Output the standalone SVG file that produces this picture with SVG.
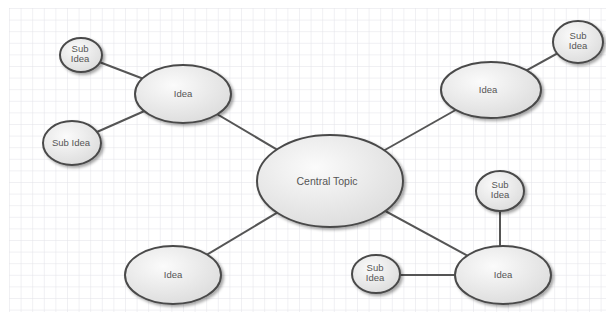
<svg xmlns="http://www.w3.org/2000/svg" width="606" height="322" viewBox="0 0 606 322">
<defs>
<pattern id="grid" x="9" y="8" width="11.6" height="11.6" patternUnits="userSpaceOnUse">
<path d="M0 0H11.6M0 0V11.6" fill="none" stroke="#e2e2e8" stroke-width="1"/>
</pattern>
<radialGradient id="fill" cx="0.4" cy="0.35" r="0.7">
<stop offset="0" stop-color="#fbfbfb"/>
<stop offset="1" stop-color="#dcdcdc"/>
</radialGradient>
<filter id="sh" x="-20%" y="-20%" width="150%" height="150%">
<feDropShadow dx="2" dy="2" stdDeviation="1.5" flood-color="#000" flood-opacity="0.35"/>
</filter>
</defs>
<style>
.n ellipse{fill:url(#fill);stroke:#4a4a4a;stroke-width:2;filter:url(#sh)}
.n text{font-family:"Liberation Sans",Arial,sans-serif;font-size:9.5px;fill:#555;text-anchor:middle}
#edges line{stroke:#555;stroke-width:2}
</style>
<rect width="606" height="322" fill="#fff"/>
<rect x="9" y="8" width="597" height="304" fill="url(#grid)"/>
<g id="edges">
<line x1="81" y1="55" x2="183" y2="94"/>
<line x1="72" y1="143" x2="183" y2="94"/>
<line x1="183" y1="94" x2="330" y2="181"/>
<line x1="330" y1="181" x2="491" y2="90"/>
<line x1="491" y1="90" x2="578" y2="42"/>
<line x1="330" y1="181" x2="173" y2="275"/>
<line x1="330" y1="181" x2="503" y2="275"/>
<line x1="500" y1="191" x2="500" y2="275"/>
<line x1="376" y1="275" x2="503" y2="275"/>
</g>
<g id="central" class="n"><ellipse cx="330" cy="181" rx="73" ry="46"/><text x="327" y="185" style="font-size:10.5px">Central Topic</text></g>
<g id="idea-tl" class="n"><ellipse cx="183" cy="94" rx="48" ry="29"/><text x="183" y="97">Idea</text></g>
<g id="idea-tr" class="n"><ellipse cx="491" cy="90" rx="50" ry="28"/><text x="488" y="93">Idea</text></g>
<g id="idea-bl" class="n"><ellipse cx="173" cy="275" rx="48" ry="29"/><text x="173" y="278">Idea</text></g>
<g id="idea-br" class="n"><ellipse cx="503" cy="275" rx="48" ry="29"/><text x="503" y="278">Idea</text></g>
<g id="sub-tl" class="n"><ellipse cx="81" cy="55" rx="21" ry="17"/><text x="80" y="52">Sub</text><text x="80" y="62">Idea</text></g>
<g id="sub-l" class="n"><ellipse cx="72" cy="143" rx="29" ry="22"/><text x="71" y="146">Sub Idea</text></g>
<g id="sub-tr" class="n"><ellipse cx="578" cy="42" rx="25" ry="21"/><text x="578" y="39">Sub</text><text x="578" y="49">Idea</text></g>
<g id="sub-br-top" class="n"><ellipse cx="500" cy="191" rx="24" ry="20"/><text x="500" y="188">Sub</text><text x="500" y="198">Idea</text></g>
<g id="sub-br-left" class="n"><ellipse cx="376" cy="274" rx="24" ry="19"/><text x="375" y="271">Sub</text><text x="375" y="281">Idea</text></g>
</svg>
